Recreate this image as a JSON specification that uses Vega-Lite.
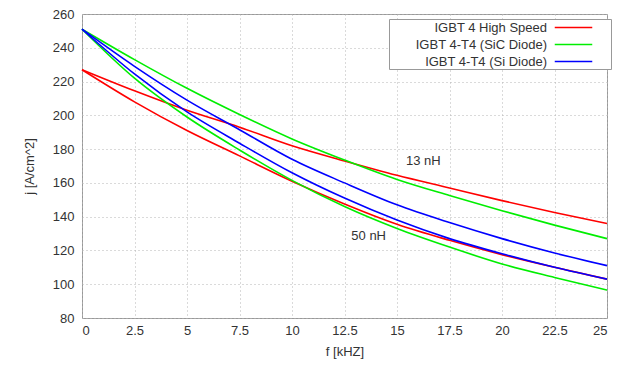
{
  "$schema": "https://vega.github.io/schema/vega-lite/v6.json",
  "width": 525,
  "height": 304,
  "autosize": {"type": "none"},
  "padding": {"left": 82, "top": 14, "right": 19, "bottom": 47},
  "background": "white",
  "config": {
    "font": "Liberation Sans",
    "view": {"stroke": "#999999", "strokeWidth": 1},
    "axis": {
      "labelFont": "Liberation Sans",
      "titleFont": "Liberation Sans",
      "labelFontSize": 13,
      "titleFontSize": 13,
      "labelColor": "#333333",
      "titleColor": "#333333",
      "titleFontWeight": "normal",
      "domain": false,
      "ticks": false,
      "grid": true,
      "gridColor": "#b4b4b4",
      "gridDash": [1, 3],
      "gridWidth": 1,
      "labelOverlap": false
    }
  },
  "datasets": {
    "curves": [
      {"device": "IGBT 4 High Speed", "L": "13 nH", "f": 0, "j": 227},
      {"device": "IGBT 4 High Speed", "L": "13 nH", "f": 2.5, "j": 214.5},
      {"device": "IGBT 4 High Speed", "L": "13 nH", "f": 5, "j": 203},
      {"device": "IGBT 4 High Speed", "L": "13 nH", "f": 7.5, "j": 193},
      {"device": "IGBT 4 High Speed", "L": "13 nH", "f": 10, "j": 182},
      {"device": "IGBT 4 High Speed", "L": "13 nH", "f": 12.5, "j": 173},
      {"device": "IGBT 4 High Speed", "L": "13 nH", "f": 15, "j": 164.5},
      {"device": "IGBT 4 High Speed", "L": "13 nH", "f": 17.5, "j": 157},
      {"device": "IGBT 4 High Speed", "L": "13 nH", "f": 20, "j": 149.5},
      {"device": "IGBT 4 High Speed", "L": "13 nH", "f": 22.5, "j": 142.5},
      {"device": "IGBT 4 High Speed", "L": "13 nH", "f": 25, "j": 136},
      {"device": "IGBT 4 High Speed", "L": "50 nH", "f": 0, "j": 227},
      {"device": "IGBT 4 High Speed", "L": "50 nH", "f": 2.5, "j": 208},
      {"device": "IGBT 4 High Speed", "L": "50 nH", "f": 5, "j": 191},
      {"device": "IGBT 4 High Speed", "L": "50 nH", "f": 7.5, "j": 176},
      {"device": "IGBT 4 High Speed", "L": "50 nH", "f": 10, "j": 161},
      {"device": "IGBT 4 High Speed", "L": "50 nH", "f": 12.5, "j": 147.5},
      {"device": "IGBT 4 High Speed", "L": "50 nH", "f": 15, "j": 135.5},
      {"device": "IGBT 4 High Speed", "L": "50 nH", "f": 17.5, "j": 126},
      {"device": "IGBT 4 High Speed", "L": "50 nH", "f": 20, "j": 117.5},
      {"device": "IGBT 4 High Speed", "L": "50 nH", "f": 22.5, "j": 110},
      {"device": "IGBT 4 High Speed", "L": "50 nH", "f": 25, "j": 103},
      {"device": "IGBT 4-T4 (SiC Diode)", "L": "13 nH", "f": 0, "j": 251},
      {"device": "IGBT 4-T4 (SiC Diode)", "L": "13 nH", "f": 2.5, "j": 233},
      {"device": "IGBT 4-T4 (SiC Diode)", "L": "13 nH", "f": 5, "j": 216},
      {"device": "IGBT 4-T4 (SiC Diode)", "L": "13 nH", "f": 7.5, "j": 200.5},
      {"device": "IGBT 4-T4 (SiC Diode)", "L": "13 nH", "f": 10, "j": 186},
      {"device": "IGBT 4-T4 (SiC Diode)", "L": "13 nH", "f": 12.5, "j": 173.5},
      {"device": "IGBT 4-T4 (SiC Diode)", "L": "13 nH", "f": 15, "j": 162},
      {"device": "IGBT 4-T4 (SiC Diode)", "L": "13 nH", "f": 17.5, "j": 152.5},
      {"device": "IGBT 4-T4 (SiC Diode)", "L": "13 nH", "f": 20, "j": 143.5},
      {"device": "IGBT 4-T4 (SiC Diode)", "L": "13 nH", "f": 22.5, "j": 135},
      {"device": "IGBT 4-T4 (SiC Diode)", "L": "13 nH", "f": 25, "j": 127},
      {"device": "IGBT 4-T4 (SiC Diode)", "L": "50 nH", "f": 0, "j": 251},
      {"device": "IGBT 4-T4 (SiC Diode)", "L": "50 nH", "f": 2.5, "j": 222},
      {"device": "IGBT 4-T4 (SiC Diode)", "L": "50 nH", "f": 5, "j": 199},
      {"device": "IGBT 4-T4 (SiC Diode)", "L": "50 nH", "f": 7.5, "j": 179.5},
      {"device": "IGBT 4-T4 (SiC Diode)", "L": "50 nH", "f": 10, "j": 161.5},
      {"device": "IGBT 4-T4 (SiC Diode)", "L": "50 nH", "f": 12.5, "j": 146},
      {"device": "IGBT 4-T4 (SiC Diode)", "L": "50 nH", "f": 15, "j": 133},
      {"device": "IGBT 4-T4 (SiC Diode)", "L": "50 nH", "f": 17.5, "j": 122},
      {"device": "IGBT 4-T4 (SiC Diode)", "L": "50 nH", "f": 20, "j": 112},
      {"device": "IGBT 4-T4 (SiC Diode)", "L": "50 nH", "f": 22.5, "j": 104},
      {"device": "IGBT 4-T4 (SiC Diode)", "L": "50 nH", "f": 25, "j": 96.5},
      {"device": "IGBT 4-T4 (Si Diode)", "L": "13 nH", "f": 0, "j": 251},
      {"device": "IGBT 4-T4 (Si Diode)", "L": "13 nH", "f": 2.5, "j": 229},
      {"device": "IGBT 4-T4 (Si Diode)", "L": "13 nH", "f": 5, "j": 209},
      {"device": "IGBT 4-T4 (Si Diode)", "L": "13 nH", "f": 7.5, "j": 191.5},
      {"device": "IGBT 4-T4 (Si Diode)", "L": "13 nH", "f": 10, "j": 174},
      {"device": "IGBT 4-T4 (Si Diode)", "L": "13 nH", "f": 12.5, "j": 160},
      {"device": "IGBT 4-T4 (Si Diode)", "L": "13 nH", "f": 15, "j": 147},
      {"device": "IGBT 4-T4 (Si Diode)", "L": "13 nH", "f": 17.5, "j": 136.5},
      {"device": "IGBT 4-T4 (Si Diode)", "L": "13 nH", "f": 20, "j": 127},
      {"device": "IGBT 4-T4 (Si Diode)", "L": "13 nH", "f": 22.5, "j": 118.5},
      {"device": "IGBT 4-T4 (Si Diode)", "L": "13 nH", "f": 25, "j": 111},
      {"device": "IGBT 4-T4 (Si Diode)", "L": "50 nH", "f": 0, "j": 251},
      {"device": "IGBT 4-T4 (Si Diode)", "L": "50 nH", "f": 2.5, "j": 224.5},
      {"device": "IGBT 4-T4 (Si Diode)", "L": "50 nH", "f": 5, "j": 202},
      {"device": "IGBT 4-T4 (Si Diode)", "L": "50 nH", "f": 7.5, "j": 183.5},
      {"device": "IGBT 4-T4 (Si Diode)", "L": "50 nH", "f": 10, "j": 166},
      {"device": "IGBT 4-T4 (Si Diode)", "L": "50 nH", "f": 12.5, "j": 151},
      {"device": "IGBT 4-T4 (Si Diode)", "L": "50 nH", "f": 15, "j": 138},
      {"device": "IGBT 4-T4 (Si Diode)", "L": "50 nH", "f": 17.5, "j": 127},
      {"device": "IGBT 4-T4 (Si Diode)", "L": "50 nH", "f": 20, "j": 118},
      {"device": "IGBT 4-T4 (Si Diode)", "L": "50 nH", "f": 22.5, "j": 110},
      {"device": "IGBT 4-T4 (Si Diode)", "L": "50 nH", "f": 25, "j": 103}
    ],
    "notes": [
      {"label": "13 nH", "f": 16.25, "j": 173},
      {"label": "50 nH", "f": 13.65, "j": 128.7}
    ]
  },
  "encoding": {
    "x": {
      "field": "f", "type": "quantitative",
      "scale": {"domain": [0, 25], "nice": false},
      "axis": {"values": [0, 2.5, 5, 7.5, 10, 12.5, 15, 17.5, 20, 22.5, 25], "labelExpr": "'' + datum.value", "title": "f [kHZ]", "labelPadding": 6, "titlePadding": 8}
    },
    "y": {
      "field": "j", "type": "quantitative",
      "scale": {"domain": [80, 260], "nice": false, "zero": false},
      "axis": {"values": [80, 100, 120, 140, 160, 180, 200, 220, 240, 260], "title": "j [A/cm^2]", "labelPadding": 8, "titlePadding": 16}
    }
  },
  "layer": [
    {
      "data": {"name": "curves"},
      "mark": {"type": "line", "strokeWidth": 1.6, "interpolate": "monotone"},
      "encoding": {
        "color": {
          "field": "device", "type": "nominal",
          "scale": {
            "domain": ["IGBT 4 High Speed", "IGBT 4-T4 (SiC Diode)", "IGBT 4-T4 (Si Diode)"],
            "range": ["#ff0000", "#00ee00", "#0000ff"]
          },
          "legend": {
            "title": null,
            "orient": "none",
            "legendX": 307,
            "legendY": 5,
            "symbolType": "M-2.5,0H2.5M4.6,0",
            "symbolSize": 225,
            "symbolStrokeWidth": 1.5,
            "symbolOffset": 176,
            "labelAlign": "right",
            "labelOffset": -35,
            "labelFont": "Liberation Sans",
            "labelFontSize": 13,
            "labelColor": "#333333",
            "labelLimit": 300,
            "fillColor": "white",
            "strokeColor": "#999999",
            "padding": 0,
            "rowPadding": 1
          }
        },
        "detail": {"field": "L", "type": "nominal"}
      }
    },
    {
      "data": {"name": "notes"},
      "mark": {"type": "text", "font": "Liberation Sans", "fontSize": 13, "color": "#333333"},
      "encoding": {
        "text": {"field": "label"}
      }
    }
  ]
}
